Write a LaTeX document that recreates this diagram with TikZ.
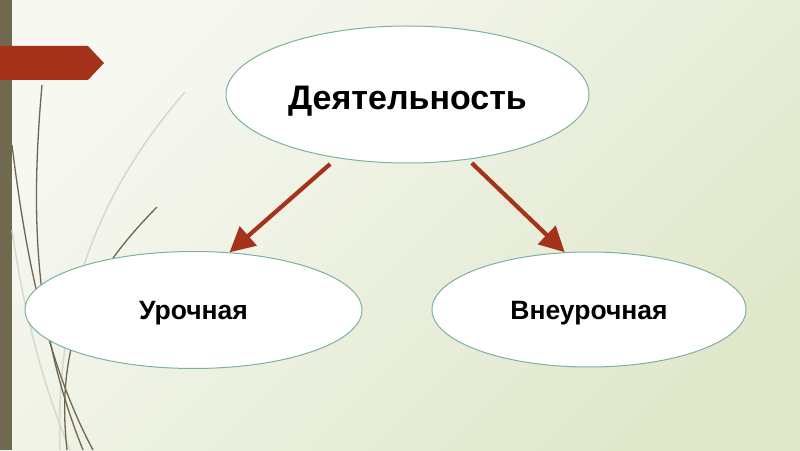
\documentclass[tikz,border=0pt]{standalone}
\usepackage{fontspec}
\setmainfont{Liberation Sans}
\usetikzlibrary{arrows.meta,shapes.geometric}
\definecolor{bgA}{HTML}{F7F8F2}
\definecolor{bgB}{HTML}{E0E8CC}
\definecolor{barc}{HTML}{6F6950}
\definecolor{redc}{HTML}{A5321B}
\definecolor{edgec}{HTML}{7DB0A0}
\definecolor{grassd}{HTML}{6E6650}
\definecolor{grassl}{HTML}{D6D9CA}
\begin{document}
\begin{tikzpicture}[x=1pt,y=1pt,
  oval/.style={ellipse, draw=edgec, line width=1pt, fill=white, inner sep=0pt, font=\bfseries, text depth=0pt},
  arr/.style={draw=redc, line width=4.2pt, -{Triangle[length=25pt,width=25pt]}},
  dgrass/.style={draw=grassd, line width=1.3pt},
  lgrass/.style={draw=grassl, line width=1.5pt}]
\useasboundingbox (0,0) rectangle (800,450);
\shade[top color=bgA, bottom color=bgB, shading angle=45] (0,0) rectangle (800,450);
% left bar
\fill[barc] (0,0) rectangle (12,450);
% grass
\draw[lgrass] (185,358) .. controls (100,260) and (55,150) .. (60,0);
\draw[lgrass] (12,220) .. controls (25,130) and (45,60) .. (70,0);
\draw[dgrass] (42,365) .. controls (30,230) and (35,120) .. (83,0);
\draw[dgrass] (12,305) .. controls (25,200) and (45,90) .. (93,0);
\draw[dgrass] (157,243) .. controls (90,175) and (55,110) .. (67,0);
% banner
\fill[redc] (0,404) -- (88,404) -- (104,387) -- (88,370) -- (0,370) -- cycle;
% nodes
\node[oval, minimum width=363pt, minimum height=137pt, text height=30pt,
      font=\bfseries\fontsize{34}{40}\selectfont] (top) at (407.5,355.5) {Деятельность};
\node[oval, minimum width=337pt, minimum height=117pt, text height=19pt,
      font=\bfseries\fontsize{26.5}{32}\selectfont] (left) at (193.5,140) {Урочная};
\node[oval, minimum width=314pt, minimum height=115pt, text height=19pt,
      font=\bfseries\fontsize{26.5}{32}\selectfont] (right) at (589,140.5) {Внеурочная};
% arrows
\draw[arr, shorten <=9pt] (top.222) -- (left.58);
\draw[arr, shorten <=5pt] (top.313) -- (right.113);
\end{tikzpicture}
\end{document}
